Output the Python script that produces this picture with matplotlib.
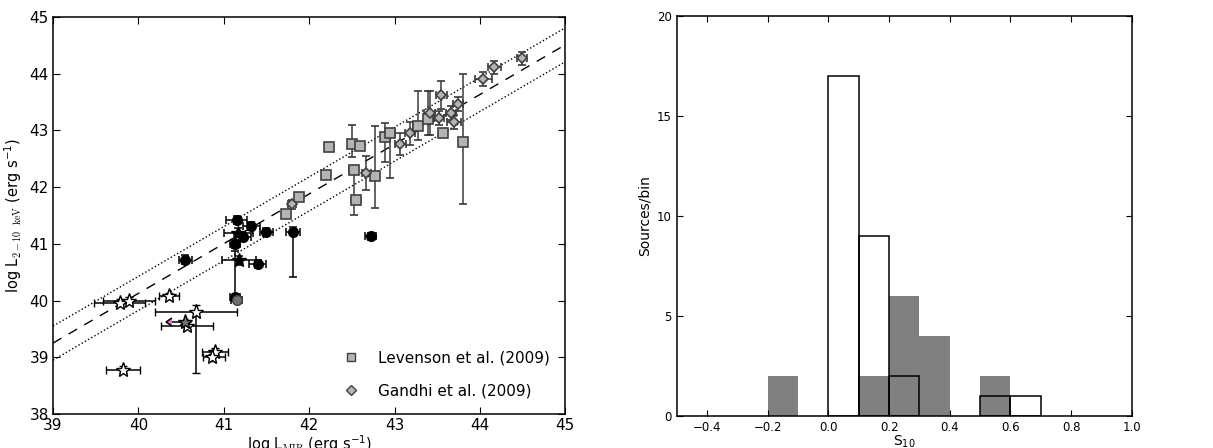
import numpy as np
import matplotlib.pyplot as plt

plt.rcParams['mathtext.fontset'] = 'cm'
plt.rcParams['mathtext.default'] = 'regular'

# --- left panel: log L_MIR vs log L_2-10keV ---
# black circles
circ_x = [40.55, 41.15, 41.32, 41.22, 41.13, 41.50, 41.81, 41.40, 41.13, 42.72]
circ_y = [40.72, 41.42, 41.32, 41.12, 41.00, 41.21, 41.21, 40.65, 40.07, 41.13]
circ_xe = [0.08, 0.12, 0.10, 0.10, 0.06, 0.08, 0.08, 0.10, 0.06, 0.06]
circ_ylo = [0.08, 0.07, 0.07, 0.07, 0.07, 0.07, 0.79, 0.07, 0.08, 0.06]
circ_yhi = [0.08, 0.07, 0.07, 0.07, 0.07, 0.07, 0.08, 0.07, 0.80, 0.06]

# gray circle
gcirc_x = [41.15]
gcirc_y = [40.01]

# black stars
bstar_x = [41.17, 41.18]
bstar_y = [41.20, 40.71]
bstar_xe = [0.17, 0.20]
bstar_ye = [0.08, 0.08]

# open stars
star_x = [39.78, 39.89, 40.36, 40.68, 40.57, 40.90, 40.86, 39.82]
star_y = [39.96, 40.00, 40.08, 39.80, 39.56, 39.10, 39.00, 38.78]
star_xlo = [0.30, 0.30, 0.12, 0.48, 0.30, 0.15, 0.10, 0.20]
star_xhi = [0.30, 0.30, 0.12, 0.48, 0.30, 0.15, 0.15, 0.20]
star_ylo = [0.06, 0.06, 0.06, 1.08, 0.06, 0.06, 0.06, 0.06]
star_yhi = [0.06, 0.06, 0.06, 0.12, 0.06, 0.06, 0.06, 0.06]

# gray star with upper limit
gstar_x = [40.55]
gstar_y = [39.62]

# Levenson et al. (2009)
lev_x = [41.73, 41.88, 42.20, 42.23, 42.50, 42.59, 42.52, 42.55, 42.77, 42.89,
         42.95, 43.27, 43.39, 43.57, 43.80]
lev_y = [41.52, 41.83, 42.22, 42.70, 42.76, 42.72, 42.30, 41.77, 42.20, 42.89,
         42.95, 43.08, 43.20, 42.95, 42.80]
lev_ylo = [0.06, 0.06, 0.06, 0.06, 0.22, 0.06, 0.79, 0.06, 0.56, 0.44,
           0.79, 0.25, 0.28, 0.06, 1.09]
lev_yhi = [0.06, 0.06, 0.06, 0.06, 0.34, 0.06, 0.06, 0.06, 0.87, 0.25,
           0.05, 0.62, 0.50, 0.06, 1.20]

# Gandhi et al. (2009)
gan_x = [41.80, 42.67, 43.07, 43.18, 43.41, 43.52, 43.55, 43.66, 43.70, 43.74,
         44.04, 44.17, 44.49]
gan_y = [41.70, 42.25, 42.76, 42.95, 43.31, 43.22, 43.62, 43.31, 43.15, 43.47,
         43.91, 44.11, 44.27]
gan_xe = [0.05, 0.05, 0.06, 0.06, 0.06, 0.06, 0.06, 0.06, 0.08, 0.06,
          0.10, 0.08, 0.06]
gan_ye = [0.08, 0.30, 0.19, 0.20, 0.39, 0.12, 0.25, 0.12, 0.12, 0.12,
          0.12, 0.12, 0.12]

# relation
rel_x = [39, 45]
rel_y = [39.25, 44.51]
rel_scatter = 0.3

# --- right panel: S10 histograms ---
gray_left = [-0.2, 0.1, 0.2, 0.3, 0.5]
gray_counts = [2, 2, 6, 4, 2]
open_left = [0.0, 0.1, 0.2, 0.5, 0.6]
open_counts = [17, 9, 2, 1, 1]

fig = plt.figure(figsize=(12.13, 4.48), dpi=100)
ax1 = fig.add_axes([0.0437, 0.0759, 0.4223, 0.8861])
ax2 = fig.add_axes([0.558, 0.0714, 0.375, 0.8929])

ax1.plot(rel_x, rel_y, 'k--', lw=1, dashes=(7, 6))
ax1.plot(rel_x, [v + rel_scatter for v in rel_y], 'k:', lw=1)
ax1.plot(rel_x, [v - rel_scatter for v in rel_y], 'k:', lw=1)

eb = dict(capsize=3, elinewidth=1.1, capthick=1.1, linestyle='none')
ax1.errorbar(lev_x, lev_y, yerr=[lev_ylo, lev_yhi], xerr=0.05, fmt='s', ms=6.5,
             mfc='#b4b4b4', mec='#404040', mew=1.2, ecolor='#3a3a3a', **eb)
ax1.errorbar(gan_x, gan_y, yerr=gan_ye, xerr=gan_xe, fmt='D', ms=5.5,
             mfc='#b4b4b4', mec='#404040', mew=1.2, ecolor='#3a3a3a', **eb)
ax1.errorbar(circ_x, circ_y, yerr=[circ_ylo, circ_yhi], xerr=circ_xe, fmt='o',
             ms=7, mfc='black', mec='black', ecolor='black', **eb)
ax1.errorbar(gcirc_x, gcirc_y, yerr=0.06, xerr=0.06, fmt='o', ms=7,
             mfc='#707070', mec='#404040', ecolor='black', **eb)
ax1.errorbar(bstar_x, bstar_y, yerr=bstar_ye, xerr=bstar_xe, fmt='*', ms=10,
             mfc='black', mec='black', ecolor='black', **eb)
ax1.errorbar(star_x, star_y, yerr=[star_ylo, star_yhi],
             xerr=[star_xlo, star_xhi], fmt='*', ms=11, mfc='white',
             mec='black', mew=1.0, ecolor='black', **eb)
ax1.errorbar(gstar_x, gstar_y, xerr=0.16, xuplims=True, fmt='*', ms=11,
             mfc='#707070', mec='black', ecolor='black', **eb)

ax1.set_xlim(39, 45)
ax1.set_ylim(38, 45)
ax1.set_xticks(range(39, 46))
ax1.set_yticks(range(38, 46))
ax1.tick_params(direction='in', top=True, right=True, labelsize=11, length=5,
                pad=3)
ax1.set_xlabel(r'log L$_{\rm MIR}$ (erg s$^{-1}$)', fontsize=10.5, labelpad=0)
ax1.set_ylabel(r'log L$_{\rm 2-10\ \ keV}$ (erg s$^{-1}$)', fontsize=10.5,
               labelpad=4)

ax1.plot([], [], 's', ms=5.5, mfc='#b4b4b4', mec='#404040',
         label='Levenson et al. (2009)')
ax1.plot([], [], 'D', ms=5, mfc='#b4b4b4', mec='#404040',
         label='Gandhi et al. (2009)')
h, l = ax1.get_legend_handles_labels()
ax1.legend(h[-2:], l[-2:], loc='lower right', frameon=False, fontsize=11,
           numpoints=1, labelspacing=1.2, borderaxespad=0.6)

ax2.bar(gray_left, gray_counts, width=0.1, align='edge', color='#808080',
        edgecolor='#808080', lw=0)
ax2.bar(open_left, open_counts, width=0.1, align='edge', fill=False,
        edgecolor='black', lw=1.1)
ax2.set_xlim(-0.5, 1.0)
ax2.set_ylim(0, 20)
ax2.set_xticks(np.arange(-0.4, 1.01, 0.2))
ax2.set_xticklabels(['\u22120.4', '\u22120.2', '0.0', '0.2', '0.4', '0.6',
                     '0.8', '1.0'])
ax2.set_yticks([0, 5, 10, 15, 20])
ax2.tick_params(direction='in', top=True, right=True, labelsize=8.5, length=4)
ax2.set_xlabel(r'S$_{10}$', fontsize=10, labelpad=0)
ax2.set_ylabel('Sources/bin', fontsize=10)

for ax in (ax1, ax2):
    for s in ax.spines.values():
        s.set_linewidth(1.1)

fig.savefig('out.png', dpi=100)
